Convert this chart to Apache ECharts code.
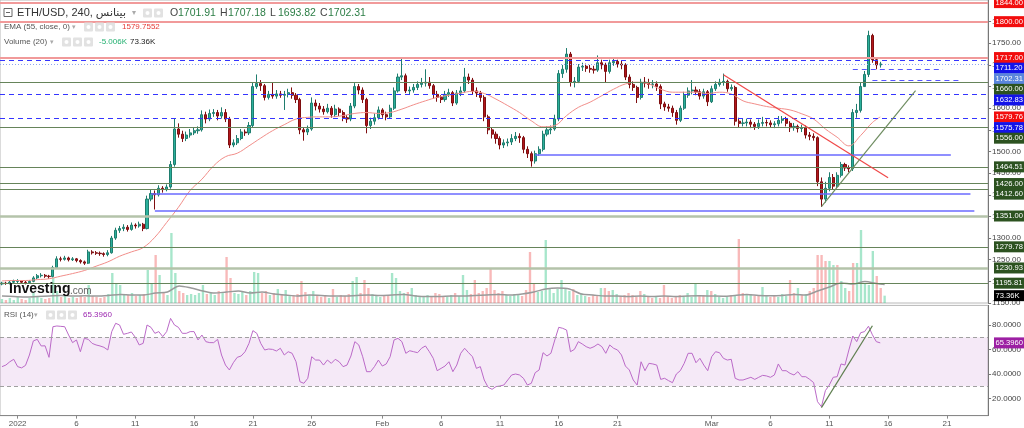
<!DOCTYPE html>
<html><head><meta charset="utf-8">
<script src="https://cdn.jsdelivr.net/npm/echarts@6/dist/echarts.min.js"></script>
<style>html,body{margin:0;padding:0;background:#fff;}#c{width:1024px;height:428px;}</style>
</head><body><div id="c"></div>
<script>
// ---- 8h candles, slot 0 = Dec 30 16:00 ----
const firstOpen = 1194;
const closes = [
1196,1195,1198,1200,1201,1198,1197,1200,1208,1213,
1214,1212,1211,1232,1252,1251,1254,1250,1252,1248,
1245,1242,1268,1266,1265,1264,1262,1266,1300,1318,
1322,1325,1320,1330,1328,1332,1322,1390,1403,1400,
1415,1412,1418,1470,1552,1540,1530,1538,1543,1548,
1550,1585,1575,1588,1590,1582,1590,1575,1515,1520,
1530,1545,1543,1560,1650,1657,1652,1625,1632,1628,
1633,1630,1632,1636,1630,1620,1550,1545,1552,1612,
1605,1598,1592,1600,1585,1598,1590,1578,1575,1605,
1650,1642,1620,1560,1570,1578,1596,1585,1580,1600,
1640,1672,1675,1640,1642,1648,1655,1658,1660,1652,
1632,1625,1620,1632,1636,1612,1635,1640,1672,1665,
1640,1635,1625,1580,1550,1540,1530,1515,1520,1522,
1530,1535,1532,1505,1495,1478,1495,1505,1540,1550,
1552,1575,1680,1690,1725,1660,1662,1695,1697,1692,
1690,1688,1705,1700,1685,1705,1708,1702,1700,1672,
1655,1648,1625,1660,1658,1655,1656,1650,1610,1603,
1600,1590,1572,1600,1630,1640,1642,1638,1628,1638,
1615,1645,1655,1660,1662,1645,1648,1570,1565,1566,
1568,1563,1558,1565,1567,1566,1562,1564,1572,1575,
1565,1555,1558,1553,1555,1538,1535,1532,1430,1390,
1415,1440,1420,1445,1470,1462,1460,1590,1595,1650,
1678,1768,1712,1700,1702.31];
const highs = [
1199,1199,1201,1204,1205,1203,1201,1203,1212,1217,
1219,1217,1215,1236,1258,1257,1259,1257,1256,1254,
1251,1248,1273,1272,1270,1269,1267,1272,1305,1324,
1328,1332,1330,1336,1334,1338,1335,1398,1412,1410,
1422,1420,1424,1478,1576,1565,1548,1546,1552,1555,
1558,1595,1592,1597,1598,1596,1602,1598,1580,1528,
1538,1552,1551,1568,1660,1678,1665,1656,1640,1660,
1642,1640,1640,1645,1648,1635,1624,1556,1560,1625,
1620,1612,1605,1610,1605,1608,1602,1595,1584,1612,
1658,1656,1648,1624,1578,1588,1604,1600,1592,1608,
1648,1680,1714,1680,1650,1656,1662,1670,1690,1672,
1656,1640,1630,1640,1645,1640,1642,1650,1693,1680,
1670,1648,1640,1630,1585,1556,1546,1535,1528,1530,
1540,1545,1542,1536,1512,1500,1502,1512,1548,1558,
1560,1585,1688,1700,1739,1730,1672,1702,1705,1703,
1700,1698,1722,1712,1705,1712,1716,1712,1710,1704,
1678,1662,1652,1668,1672,1668,1665,1662,1655,1615,
1610,1606,1596,1606,1638,1648,1665,1650,1644,1645,
1642,1652,1662,1668,1680,1666,1655,1652,1578,1575,
1576,1574,1568,1574,1580,1574,1572,1570,1582,1582,
1580,1570,1566,1562,1562,1560,1545,1542,1535,1440,
1430,1452,1448,1452,1476,1474,1468,1598,1610,1660,
1686,1779,1772,1718,1707.18];
const lows = [
1191,1192,1193,1196,1195,1194,1193,1194,1198,1205,
1209,1208,1206,1209,1230,1246,1248,1246,1247,1244,
1241,1238,1240,1262,1261,1259,1257,1258,1264,1296,
1312,1316,1315,1317,1322,1324,1316,1320,1385,1366,
1396,1405,1408,1414,1465,1532,1522,1524,1532,1538,
1541,1546,1565,1570,1580,1572,1576,1568,1508,1510,
1515,1526,1536,1538,1555,1645,1640,1618,1620,1622,
1622,1624,1596,1625,1622,1612,1540,1525,1538,1548,
1595,1590,1585,1588,1578,1580,1582,1570,1566,1570,
1600,1632,1612,1542,1552,1562,1574,1578,1572,1576,
1596,1636,1665,1635,1632,1636,1642,1648,1650,1645,
1622,1615,1612,1615,1626,1605,1608,1628,1636,1656,
1632,1626,1615,1570,1540,1530,1518,1505,1508,1512,
1515,1524,1520,1496,1485,1465,1472,1490,1500,1535,
1540,1548,1570,1670,1682,1650,1648,1658,1686,1684,
1682,1680,1684,1690,1660,1680,1698,1694,1690,1665,
1646,1640,1612,1620,1648,1645,1646,1640,1598,1594,
1592,1580,1562,1568,1596,1624,1632,1630,1620,1622,
1605,1612,1640,1650,1652,1638,1640,1560,1556,1558,
1558,1554,1550,1552,1558,1558,1555,1554,1558,1565,
1558,1545,1548,1544,1545,1530,1526,1525,1420,1372,
1382,1408,1412,1415,1440,1455,1452,1455,1578,1590,
1665,1672,1705,1690,1693.82];
const volumes = [
40,30,50,30,60,40,30,50,100,60,
50,40,50,250,120,60,70,50,60,50,
70,60,180,70,60,50,60,90,300,200,
180,90,80,100,70,80,90,330,200,480,
280,100,80,700,300,120,100,80,90,80,
100,180,90,100,80,120,110,460,250,100,
90,110,80,120,310,300,100,120,80,100,
140,80,130,70,80,90,220,110,80,120,
70,60,80,50,140,60,80,70,90,220,
260,100,230,150,90,80,60,70,80,300,
250,120,100,110,150,80,60,70,80,60,
100,90,70,60,80,100,70,280,130,90,
230,100,120,150,340,130,100,120,80,70,
90,80,70,130,510,200,110,120,630,150,
100,140,230,150,120,140,80,100,70,60,
80,70,150,150,120,130,90,70,80,100,
80,60,120,90,60,50,70,50,180,70,
50,60,80,60,100,60,200,70,80,130,
120,90,60,50,60,80,70,640,100,80,
90,70,80,160,70,60,80,60,90,70,
230,100,150,80,90,120,150,480,480,420,
420,380,380,220,150,120,400,400,730,200,
180,520,270,150,73.36];
const rsiVals = [
46,47.3,50,52,46,45,47,55.5,67,68.3,
62.9,63,53.6,78.6,79.2,78.9,78.6,71.8,65.6,67.8,
58.2,69.1,68.3,65,63.7,62.9,61.8,59.6,74.6,81.4,
80,72.4,73.2,74.3,70,63.7,65,80,78.1,73.2,
74.6,70.5,74.6,85.4,80,78.1,73.2,73.2,74.6,74.6,
67.8,71.8,66.4,65.6,65.6,68.3,55.5,47.3,43.3,49.2,
53.6,54.7,58.2,65,75.4,73.2,65,59.6,60.4,60.1,
58.8,61,55.5,58.2,56.9,50,33.7,32.4,36.5,54.1,
51.4,51.4,47.3,51.4,48.7,52,50,46,47.3,54.7,
66.4,63.7,54.1,41.9,41.9,46,51.4,46.5,48.2,54.1,
67.8,69.1,66.4,56.9,59,58.2,57.4,61,62.9,58.2,
52.8,42.7,44.6,46.5,50,41.9,47.3,56.9,61,57.4,
54.1,44.6,46,35.1,29.1,27.5,29.7,30.2,31,35.1,
39.2,40,39.2,36.5,31,32.4,41.1,43.3,57.4,54.7,
56.9,67.8,78.1,77.3,75.9,58.2,60.1,66.4,64.5,62.3,
61,62.3,64.5,62.3,56.9,63.7,61,59.6,55.5,46.5,
43.3,35.1,31,50,42.7,48.7,48.2,47.3,35.6,36.5,
34.6,32.9,40,42.7,48.7,56.9,56.9,49.2,52.8,47.3,
42.7,54.1,58.2,57.4,52.8,51.4,52,36.5,35.1,35.1,
36.2,37.3,35.6,37.3,38.9,38.4,37.3,39.2,48.2,42.7,
42.7,40.5,39.2,41.9,37.8,37.8,35.6,33,17.4,13.3,
26.4,31,37.3,37.8,48.2,47.3,59.6,71,66.4,73.7,
74.6,79,72,66.4,65.396];
// EMA(55) and Volume MA(20), read once a day (every 3rd slot) plus last candle
const emaVals = [
1201,1202,1202,1204,1206,1212,1218,1225,1235,1245,
1258,1268,1278,1302,1336,1371,1410,1436,1467,1488,
1496,1513,1531,1548,1562,1575,1579,1580,1580,1583,
1588,1590,1588,1590,1598,1608,1617,1625,1630,1635,
1639,1634,1621,1606,1590,1571,1557,1560,1583,1602,
1614,1629,1644,1656,1660,1656,1644,1637,1637,1637,
1634,1637,1633,1617,1610,1604,1600,1596,1587,1575,
1552,1533,1513,1537,1567,1579.76];
const volMaVals = [
70,65,60,65,70,75,70,72,70,75,
85,80,80,100,110,170,150,120,100,110,
120,100,110,90,80,70,80,75,70,70,
75,80,75,80,85,70,65,65,70,70,
75,80,85,80,90,110,140,150,140,90,
80,70,70,65,70,65,70,65,70,72,
70,68,75,85,75,72,75,85,80,120,
160,200,190,215,195,185];
const tickDates  = ['01-01','01-06','01-11','01-16','01-21','01-26','02-01','02-06','02-11','02-16','02-21','03-01','03-06','03-11','03-16','03-21'];
const tickLabels = ['2022','6','11','16','21','26','Feb','6','11','16','21','Mar','6','11','16','21'];
// horizontal price levels
const hLevels = [
 {v:1844,k:'red'},{v:1800,k:'red'},{v:1717,k:'red'},{v:1711.20,k:'blue'},{v:1702.31,k:'last'},
 {v:1660,k:'green'},{v:1632.83,k:'blue'},{v:1575.78,k:'blue'},{v:1556,k:'green'},{v:1464.51,k:'green'},
 {v:1426,k:'green'},{v:1412.60,k:'green'},{v:1351,k:'lgreen'},{v:1279.78,k:'green'},{v:1230.93,k:'lgreen'},{v:1195.81,k:'green'}];
const emaLast = 1579.76, volLast = 73.36, rsiLast = 65.396;
// drawn segments: [slotFrom, slotTo, price]
const blueSegs = [[136,242,1492],[38,247,1403],[39,248,1363]];
const dashSegs = [[217,240,1690.7],[222,244,1665]];
const redTrend = [[184,1677.5],[226,1439.5]];
const greenTrend = [[209,1372.5],[233,1640.5]];
const rsiTrend = [[209,12.5],[222,79.4]];

// ---------------------------------------------------------
const FONT = 'Liberation Sans, DejaVu Sans, Arial, sans-serif';
const SLOTS = 252;
const t0 = Date.UTC(2021, 11, 30, 16);
const pad = n => (n < 10 ? '0' : '') + n;
const cats = [];
for (let i = 0; i < SLOTS; i++) {
  const d = new Date(t0 + i * 8 * 3600e3);
  cats.push(pad(d.getUTCMonth() + 1) + '-' + pad(d.getUTCDate()) + ' ' + pad(d.getUTCHours()));
}
const labelMap = {};
tickDates.forEach((d, i) => labelMap[d + ' 00'] = tickLabels[i]);

const opens = closes.map((c, i) => i === 0 ? firstOpen : closes[i - 1]);
const candleData = closes.map((c, i) => [opens[i], c, lows[i], highs[i]]);
const UP = '#2bb09c', DOWN = '#b3161b';
const volData = volumes.map((v, i) => ({
  value: v,
  itemStyle: { color: closes[i] >= opens[i] ? 'rgba(60,200,140,0.45)' : 'rgba(240,100,100,0.45)' }
}));
const daily = arr => arr.map((v, i) => [i < 75 ? i * 3 : closes.length - 1, v]);

const lineStyles = {
  red: { color: '#f19a9a', width: 2, type: 'solid' },
  blue: { color: '#3434ff', width: 1, type: [5, 4] },
  last: { color: '#8fa6ee', width: 1, type: [1, 2] },
  green: { color: '#66845a', width: 1.2, type: 'solid' },
  lgreen: { color: '#b4c3aa', width: 2.5, type: 'solid' }
};
const tagColors = { red: '#f20d0d', blue: '#1313e8', last: '#5a86dc', green: '#2c5220', lgreen: '#2c5220', ema: '#f20d0d' };

const mainLines = hLevels.map(l => ({ yAxis: l.v, lineStyle: lineStyles[l.k] }));
blueSegs.forEach(s => mainLines.push([{ coord: [cats[s[0]], s[2]], lineStyle: { color: '#6a6aff', width: 1.5, type: 'solid' } }, { coord: [cats[s[1]], s[2]] }]));
dashSegs.forEach(s => mainLines.push([{ coord: [cats[s[0]], s[2]], lineStyle: { color: '#5555ff', width: 1, type: [5, 4] } }, { coord: [cats[s[1]], s[2]] }]));
mainLines.push([{ coord: [cats[redTrend[0][0]], redTrend[0][1]], lineStyle: { color: '#f04848', width: 1.2, type: 'solid' } }, { coord: [cats[redTrend[1][0]], redTrend[1][1]] }]);
mainLines.push([{ coord: [cats[greenTrend[0][0]], greenTrend[0][1]], lineStyle: { color: '#6e8c60', width: 1.2, type: 'solid' } }, { coord: [cats[greenTrend[1][0]], greenTrend[1][1]] }]);

const chart = echarts.init(document.getElementById('c'), null, { renderer: 'canvas' });
const xBase = { type: 'category', data: cats, boundaryGap: true };
const option = {
  animation: false,
  backgroundColor: '#fff',
  textStyle: { fontFamily: FONT },
  grid: [
    { left: 0, right: 31, top: 0, height: 303, show: true, borderColor: '#b8b8b8', borderWidth: 1, backgroundColor: 'transparent' },
    { left: 0, right: 31, top: 193, height: 110 },
    { left: 0, right: 31, top: 305.4, height: 110.25, show: true, borderColor: '#b8b8b8', borderWidth: 1, backgroundColor: 'transparent' }
  ],
  xAxis: [
    Object.assign({}, xBase, { gridIndex: 0, axisLine: { show: false }, axisTick: { show: false }, axisLabel: { show: false }, splitLine: { show: false } }),
    Object.assign({}, xBase, { gridIndex: 1, show: false }),
    Object.assign({}, xBase, {
      gridIndex: 2,
      axisLine: { show: true, lineStyle: { color: '#888', width: 1 } },
      axisTick: { show: true, alignWithLabel: true, length: 3, lineStyle: { color: '#888' }, interval: (i, v) => labelMap[v] !== undefined },
      axisLabel: { show: true, interval: (i, v) => labelMap[v] !== undefined, formatter: v => labelMap[v] || '', fontSize: 8, color: '#555', margin: 4, fontFamily: FONT },
      splitLine: { show: false }
    })
  ],
  yAxis: [
    { gridIndex: 0, position: 'right', min: 1150, max: 1850, interval: 50, scale: false,
      axisLine: { show: true, lineStyle: { color: '#777' } },
      axisTick: { show: true, length: 3, lineStyle: { color: '#777' } },
      axisLabel: { formatter: v => v.toFixed(2), fontSize: 8, color: '#444', margin: 4, showMaxLabel: false, fontFamily: FONT },
      splitLine: { show: false } },
    { gridIndex: 1, min: 0, max: 1100, show: false, splitLine: { show: false } },
    { gridIndex: 2, position: 'right', min: 6, max: 96,
      axisLine: { show: true, lineStyle: { color: '#777' } },
      axisTick: { show: true, length: 3, lineStyle: { color: '#777' }, customValues: [20, 40, 60, 80] },
      axisLabel: { customValues: [20, 40, 60, 80], formatter: v => v.toFixed(4), fontSize: 8, color: '#444', margin: 4, fontFamily: FONT },
      splitLine: { show: false } }
  ],
  series: [
    { type: 'bar', xAxisIndex: 1, yAxisIndex: 1, data: volData, barWidth: '60%', silent: true },
    { type: 'line', xAxisIndex: 1, yAxisIndex: 1, data: daily(volMaVals), showSymbol: false, smooth: 0.3,
      lineStyle: { color: '#9a9a9a', width: 1.5 }, silent: true },
    { type: 'candlestick', xAxisIndex: 0, yAxisIndex: 0, data: candleData, barWidth: '66%',
      itemStyle: { color: UP, color0: DOWN, borderColor: '#1f7d6e', borderColor0: '#7e0e10', borderWidth: 1 },
      markLine: { silent: true, symbol: ['none', 'none'], label: { show: false }, animation: false, data: mainLines },
      z: 3 },
    { type: 'line', xAxisIndex: 0, yAxisIndex: 0, data: daily(emaVals), showSymbol: false, smooth: 0.4,
      lineStyle: { color: '#f28e8a', width: 1 }, silent: true, z: 4 },
    { type: 'line', xAxisIndex: 2, yAxisIndex: 2, data: rsiVals, showSymbol: false,
      lineStyle: { color: '#bb6ac8', width: 1 }, silent: true,
      markArea: { silent: true, itemStyle: { color: 'rgba(156,39,176,0.1)' }, data: [[{ yAxis: 30 }, { yAxis: 70 }]] },
      markLine: { silent: true, symbol: ['none', 'none'], label: { show: false },
        data: [
          { yAxis: 70, lineStyle: { color: '#a0a0a0', width: 1, type: [4, 3] } },
          { yAxis: 30, lineStyle: { color: '#a0a0a0', width: 1, type: [4, 3] } },
          [{ coord: [cats[rsiTrend[0][0]], rsiTrend[0][1]], lineStyle: { color: '#5f7f50', width: 1.2, type: 'solid' } }, { coord: [cats[rsiTrend[1][0]], rsiTrend[1][1]] }]
        ] } }
  ]
};
chart.setOption(option);

// ---- legends & tags ----
const g = [];
function txt(x, y, text, size, color, weight) {
  g.push({ type: 'text', x: x, y: y, z: 100, style: { text: text, fill: color, font: (weight || 'normal') + ' ' + size + 'px ' + FONT, textVerticalAlign: 'middle', textAlign: 'left' } });
}
function icon(x, y) {
  g.push({ type: 'rect', z: 100, shape: { x: x, y: y - 4.5, width: 9, height: 9, r: 1 }, style: { fill: '#e2e2e2' } });
  g.push({ type: 'circle', z: 101, shape: { cx: x + 4.5, cy: y, r: 2 }, style: { fill: '#fff' } });
}
// line 1
g.push({ type: 'rect', z: 100, shape: { x: 4, y: 8.5, width: 8, height: 8 }, style: { fill: '#fff', stroke: '#666', lineWidth: 1 } });
g.push({ type: 'line', z: 101, shape: { x1: 6, y1: 12.5, x2: 10, y2: 12.5 }, style: { stroke: '#666', lineWidth: 1 } });
txt(17, 13, 'ETH/USD, 240, بينانس', 11, '#333');
txt(132, 13, '▾', 8, '#aaa');
icon(143, 13); icon(154, 13);
const ohlc = [['O', '1701.91', 170], ['H', '1707.18', 220], ['L', '1693.82', 270], ['C', '1702.31', 320]];
ohlc.forEach(o => { txt(o[2], 13, o[0], 10.5, '#444'); txt(o[2] + 8, 13, o[1], 10.5, '#2b7d45'); });
// line 2
txt(4, 27, 'EMA (55, close, 0)', 8, '#555');
txt(72, 27, '▾', 7, '#aaa');
icon(84, 27); icon(95, 27); icon(106, 27);
txt(122, 27, '1579.7552', 8, '#e53935');
// line 3
txt(4, 42, 'Volume (20)', 8, '#555');
txt(50, 42, '▾', 7, '#aaa');
icon(62, 42); icon(73, 42); icon(84, 42);
txt(99, 42, '-5.006K', 8, '#22b070');
txt(130, 42, '73.36K', 8, '#222');
// RSI legend
txt(4, 315, 'RSI (14)', 8, '#555');
txt(34, 315, '▾', 7, '#aaa');
icon(46, 315); icon(57, 315); icon(68, 315);
txt(83, 315, '65.3960', 8, '#9c27b0');
// Investing logo
txt(9, 289, 'Investing', 14, '#111', 'bold');
txt(70, 291, '.com', 10, '#666');

// price tags with overlap avoidance
const tags = hLevels.map(l => ({ y: chart.convertToPixel({ yAxisIndex: 0 }, l.v), text: l.v.toFixed(2), color: tagColors[l.k] }));
tags.push({ y: chart.convertToPixel({ yAxisIndex: 0 }, emaLast), text: emaLast.toFixed(2), color: tagColors.ema });
tags.push({ y: chart.convertToPixel({ yAxisIndex: 1 }, volLast), text: '73.36K', color: '#000' });
tags.sort((a, b) => a.y - b.y);
for (let i = 1; i < tags.length; i++) if (tags[i].y < tags[i - 1].y + 10.6) tags[i].y = tags[i - 1].y + 10.6;
tags.push({ y: chart.convertToPixel({ yAxisIndex: 2 }, rsiLast), text: rsiLast.toFixed(4), color: '#9c1fa3' });
tags.forEach(t => {
  g.push({ type: 'rect', z: 110, shape: { x: 994, y: t.y - 5.5, width: 30, height: 11 }, style: { fill: t.color } });
  g.push({ type: 'text', z: 111, x: 995.5, y: t.y, style: { text: t.text, fill: '#fff', font: '7.6px ' + FONT, textVerticalAlign: 'middle' } });
});
chart.setOption({ graphic: g });
</script></body></html>
